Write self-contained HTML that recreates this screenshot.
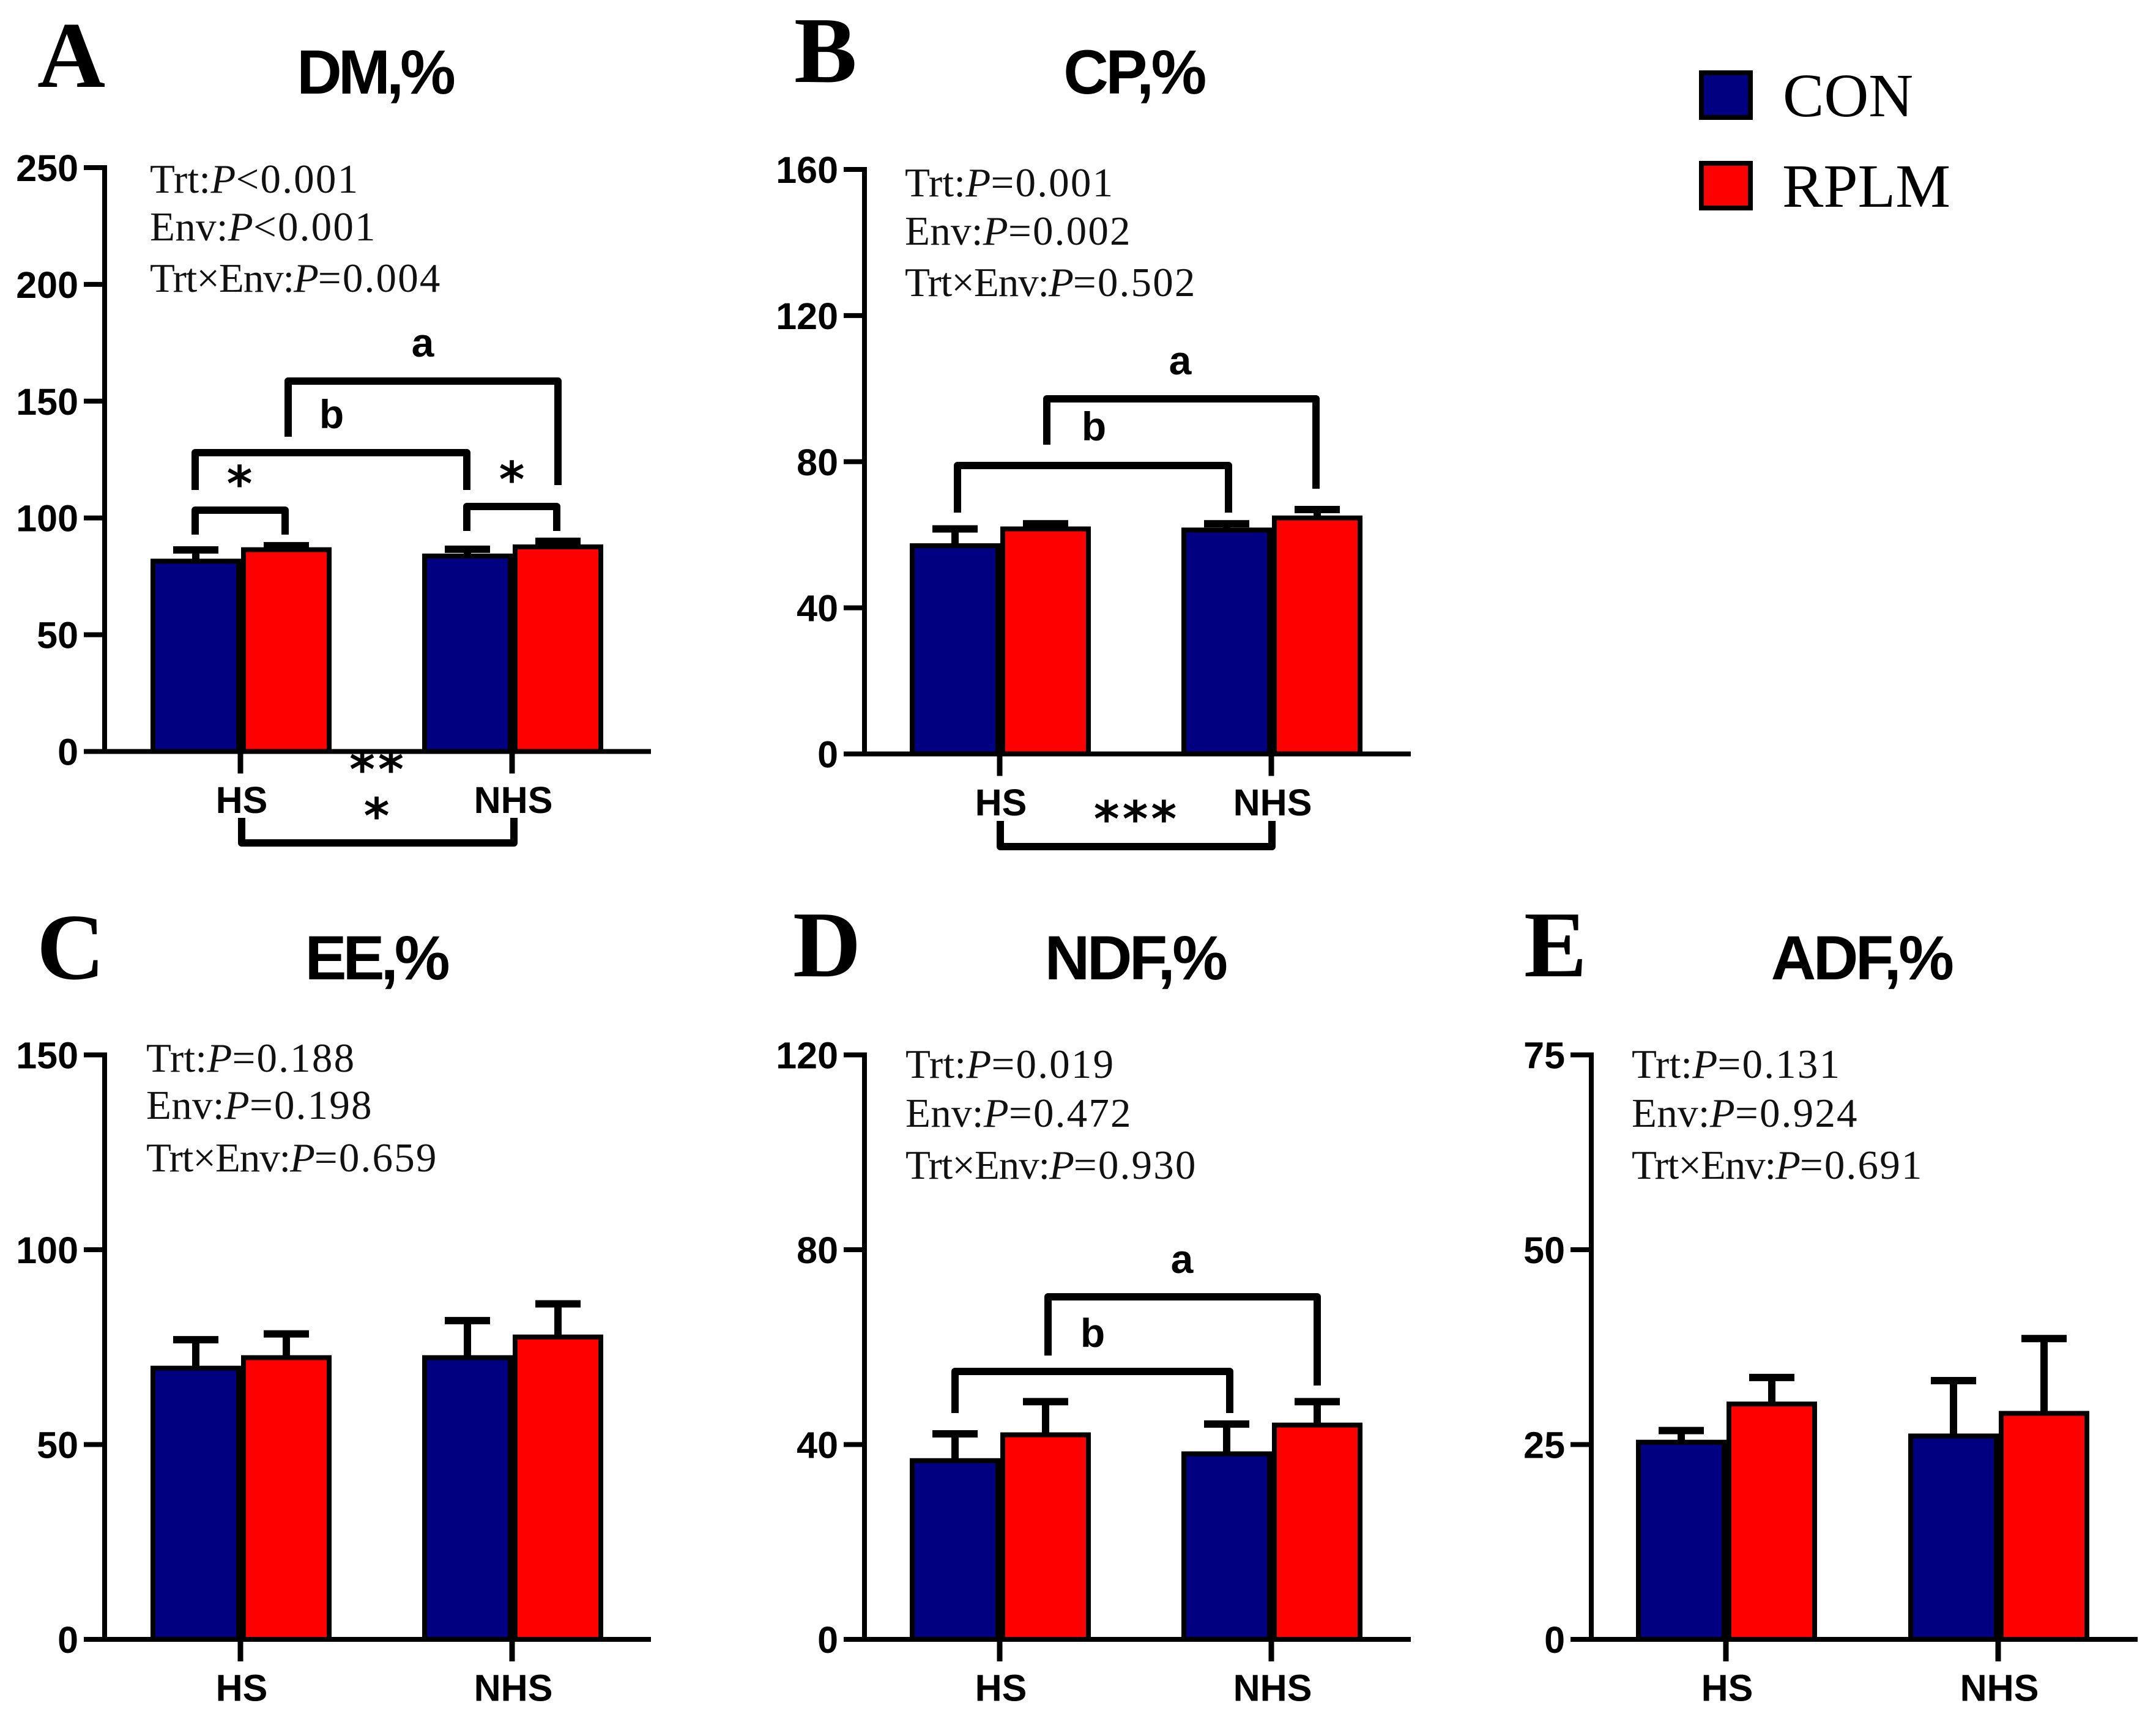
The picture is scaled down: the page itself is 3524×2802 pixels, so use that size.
<!DOCTYPE html>
<html lang="en">
<head>
<meta charset="utf-8">
<title>Digestibility bar charts</title>
<style>
html,body{margin:0;padding:0;background:#fff;}
svg{display:block;}
.letter{font-family:"Liberation Serif",serif;font-weight:700;font-size:154px;fill:#000;}
.title{font-family:"Liberation Sans",sans-serif;font-weight:700;font-size:102px;letter-spacing:-6px;text-anchor:middle;fill:#000;}
.title.wide{letter-spacing:-4.5px;}
.stat{font-family:"Liberation Serif",serif;font-size:67px;letter-spacing:.3px;fill:#111;}
.stat.long{letter-spacing:-1.1px;}
.stat .p{font-style:italic;}
.stat .v{letter-spacing:2.2px;}
.tick{font-family:"Liberation Sans",sans-serif;font-weight:700;font-size:61px;fill:#000;}
.sig{font-family:"Liberation Sans",sans-serif;font-weight:700;font-size:66px;text-anchor:middle;fill:#000;}
.star{font-family:"DejaVu Sans",sans-serif;font-weight:700;font-size:80px;letter-spacing:5px;text-anchor:middle;fill:#000;}
.legend{font-family:"Liberation Serif",serif;font-size:101px;fill:#000;}
.br{fill:none;stroke:#000;stroke-width:12;stroke-linejoin:round;}
</style>
</head>
<body>
<svg id="figure" xmlns="http://www.w3.org/2000/svg" width="3524" height="2802" viewBox="0 0 3524 2802">
<rect width="3524" height="2802" fill="#fff"/>

<text class="letter" x="61" y="142">A</text>
<text class="letter" x="1298" y="134">B</text>
<text class="letter" x="60" y="1600">C</text>
<text class="letter" x="1296" y="1596">D</text>
<text class="letter" x="2491" y="1596">E</text>

<text class="title" x="612" y="153">DM,%</text>
<text class="title wide" x="1853" y="153">CP,%</text>
<text class="title" x="614" y="1601">EE,%</text>
<text class="title wide" x="1855" y="1601">NDF,%</text>
<text class="title wide" x="3042" y="1601">ADF,%</text>

<g>
<text class="stat" x="245" y="315">Trt:<tspan class="p">P</tspan><tspan class="v">&lt;0.001</tspan></text>
<text class="stat" x="245" y="393">Env:<tspan class="p">P</tspan><tspan class="v">&lt;0.001</tspan></text>
<text class="stat long" x="245" y="477">Trt×Env:<tspan class="p">P</tspan><tspan class="v">=0.004</tspan></text>
</g>
<g>
<text class="stat" x="1479" y="321">Trt:<tspan class="p">P</tspan><tspan class="v">=0.001</tspan></text>
<text class="stat" x="1479" y="400">Env:<tspan class="p">P</tspan><tspan class="v">=0.002</tspan></text>
<text class="stat long" x="1479" y="484">Trt×Env:<tspan class="p">P</tspan><tspan class="v">=0.502</tspan></text>
</g>
<g>
<text class="stat" x="239" y="1752">Trt:<tspan class="p">P</tspan><tspan class="v">=0.188</tspan></text>
<text class="stat" x="239" y="1829">Env:<tspan class="p">P</tspan><tspan class="v">=0.198</tspan></text>
<text class="stat long" x="239" y="1915">Trt×Env:<tspan class="p">P</tspan><tspan class="v">=0.659</tspan></text>
</g>
<g>
<text class="stat" x="1480" y="1762">Trt:<tspan class="p">P</tspan><tspan class="v">=0.019</tspan></text>
<text class="stat" x="1480" y="1842">Env:<tspan class="p">P</tspan><tspan class="v">=0.472</tspan></text>
<text class="stat long" x="1480" y="1927">Trt×Env:<tspan class="p">P</tspan><tspan class="v">=0.930</tspan></text>
</g>
<g>
<text class="stat" x="2667" y="1762">Trt:<tspan class="p">P</tspan><tspan class="v">=0.131</tspan></text>
<text class="stat" x="2667" y="1842">Env:<tspan class="p">P</tspan><tspan class="v">=0.924</tspan></text>
<text class="stat long" x="2667" y="1927">Trt×Env:<tspan class="p">P</tspan><tspan class="v">=0.691</tspan></text>
</g>

<g id="charts"></g>

<g>
<path class="br" d="M319 874V834H466V874"/>
<path class="br" d="M763 868V828H910V868"/>
<path class="br" d="M319 801V740H763V801"/>
<path class="br" d="M471 714V623H912V793"/>
<path class="br" d="M395 1337V1378H840V1337"/>
<text class="sig" x="691" y="583">a</text>
<text class="sig" x="542" y="700">b</text>
<text class="star" x="394" y="819">*</text>
<text class="star" x="839" y="812">*</text>
<text class="star" x="618" y="1286">**</text>
<text class="star" x="618" y="1362">*</text>
</g>
<g>
<path class="br" d="M1565 838V761H2008V838"/>
<path class="br" d="M1711 727V652H2151V799"/>
<path class="br" d="M1635 1342V1384H2079V1342"/>
<text class="sig" x="1929" y="612">a</text>
<text class="sig" x="1788" y="720">b</text>
<text class="star" x="1858" y="1367">***</text>
</g>
<g>
<path class="br" d="M1561 2310V2242H2010V2310"/>
<path class="br" d="M1713 2216V2120H2153V2265"/>
<text class="sig" x="1932" y="2081">a</text>
<text class="sig" x="1786" y="2202">b</text>
</g>

<g>
<rect x="2781" y="119" width="80" height="73" fill="#000080" stroke="#000" stroke-width="8"/>
<rect x="2781" y="267" width="80" height="73" fill="#f00" stroke="#000" stroke-width="8"/>
<text class="legend" x="2914" y="190">CON</text>
<text class="legend" x="2913" y="338">RPLM</text>
</g>
</svg>

<script>
const categories = ["HS", "NHS"];

const dmTicks = [0, 50, 100, 150, 200, 250];
const dmCon = [81.5, 83.7];
const dmConErr = [4.8, 2.9];
const dmRplm = [86.4, 87.6];
const dmRplmErr = [1.7, 2.4];

const cpTicks = [0, 40, 80, 120, 160];
const cpCon = [57, 61.3];
const cpConErr = [4.6, 1.7];
const cpRplm = [61.6, 64.6];
const cpRplmErr = [1.4, 2.3];

const eeTicks = [0, 50, 100, 150];
const eeCon = [69.6, 72.3];
const eeConErr = [7.3, 9.5];
const eeRplm = [72.3, 77.6];
const eeRplmErr = [6.1, 8.5];

const ndfTicks = [0, 40, 80, 120];
const ndfCon = [36.7, 38.1];
const ndfConErr = [5.5, 6.1];
const ndfRplm = [42, 44];
const ndfRplmErr = [6.8, 4.8];

const adfTicks = [0, 25, 50, 75];
const adfCon = [25.3, 26.1];
const adfConErr = [1.5, 7.1];
const adfRplm = [30.2, 29];
const adfRplmErr = [3.4, 9.6];

const NS = "http://www.w3.org/2000/svg";
const root = document.getElementById("charts");
const BAR_W = 140;
const BAR_OFFSET = 74;
const LW = 8;
const ERR_W = 12;

function add(parent, tag, attrs) {
  const el = document.createElementNS(NS, tag);
  for (const k in attrs) el.setAttribute(k, attrs[k]);
  parent.appendChild(el);
  return el;
}

function drawPanel(p) {
  const g = add(root, "g", {});
  
  

  const max = p.ticks[p.ticks.length - 1];
  const y = v => p.bottom - (v / max) * (p.bottom - p.top);
  const xGroup = i => p.first + p.step * i;

  const drawBar = (i, side, value, err, color, series) => {
    const cx = xGroup(i) + side * BAR_OFFSET;
    const capY = y(value + err);
    const stem = add(g, "line", {x1: cx, x2: cx, y1: y(value), y2: capY, stroke: "#000", "stroke-width": ERR_W});
    
    
    const cap = add(g, "line", {x1: cx - 37, x2: cx + 37, y1: capY, y2: capY, stroke: "#000", "stroke-width": ERR_W});
    
    
    const bar = add(g, "rect", {
      x: cx - BAR_W / 2, y: y(value), width: BAR_W,
      height: p.bottom - y(value), fill: color, stroke: "#000", "stroke-width": LW
    });
    
    
  };

  categories.forEach((c, i) => {
    drawBar(i, -1, p.con[i], p.conErr[i], "#000080", "con");
    drawBar(i, 1, p.rplm[i], p.rplmErr[i], "#ff0000", "rplm");
  });

  const yAxis = add(g, "line", {x1: p.axisX, x2: p.axisX, y1: p.top - LW / 2, y2: p.bottom + LW / 2, stroke: "#000", "stroke-width": LW});
  
  
  const xAxis = add(g, "line", {x1: p.axisX - 34, x2: p.xEnd, y1: p.bottom, y2: p.bottom, stroke: "#000", "stroke-width": LW});
  
  

  p.ticks.forEach(t => {
    const mark = add(g, "line", {x1: p.axisX - 34, x2: p.axisX, y1: y(t), y2: y(t), stroke: "#000", "stroke-width": LW});
    
    
    const label = add(g, "text", {class: "tick", x: p.axisX - 43, y: y(t) + 22, "text-anchor": "end"});
    label.textContent = t;
    
    
  });

  categories.forEach((c, i) => {
    const cx = xGroup(i);
    const mark = add(g, "line", {x1: cx - 1, x2: cx - 1, y1: p.bottom, y2: p.bottom + 36, stroke: "#000", "stroke-width": LW + 1});
    
    
    const label = add(g, "text", {class: "tick", x: cx + 1, y: p.bottom + 100.5, "text-anchor": "middle"});
    label.textContent = c;
    
    
  });
}

drawPanel({name: "dm", ticks: dmTicks, con: dmCon, conErr: dmConErr, rplm: dmRplm, rplmErr: dmRplmErr,
  axisX: 171, top: 274, bottom: 1228.5, first: 394, step: 444, xEnd: 1064});
drawPanel({name: "cp", ticks: cpTicks, con: cpCon, conErr: cpConErr, rplm: cpRplm, rplmErr: cpRplmErr,
  axisX: 1413, top: 277, bottom: 1232.5, first: 1635, step: 444, xEnd: 2306});
drawPanel({name: "ee", ticks: eeTicks, con: eeCon, conErr: eeConErr, rplm: eeRplm, rplmErr: eeRplmErr,
  axisX: 171, top: 1724.5, bottom: 2680, first: 394, step: 444, xEnd: 1064});
drawPanel({name: "ndf", ticks: ndfTicks, con: ndfCon, conErr: ndfConErr, rplm: ndfRplm, rplmErr: ndfRplmErr,
  axisX: 1413, top: 1724.5, bottom: 2680, first: 1635, step: 444, xEnd: 2306});
drawPanel({name: "adf", ticks: adfTicks, con: adfCon, conErr: adfConErr, rplm: adfRplm, rplmErr: adfRplmErr,
  axisX: 2601, top: 1724.5, bottom: 2680, first: 2822, step: 445, xEnd: 3494});
</script>
</body>
</html>
